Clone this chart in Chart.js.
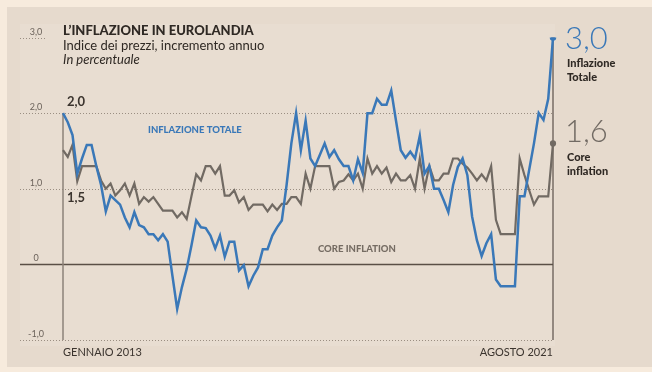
<!DOCTYPE html>
<html>
<head>
<meta charset="utf-8">
<script src="https://cdn.jsdelivr.net/npm/chart.js@4.4.0/dist/chart.umd.min.js"></script>
<style>
  html, body { margin: 0; padding: 0; background: #f7ebdd; }
  canvas { display: block; }
</style>
</head>
<body>
<canvas id="chart" width="652" height="372"></canvas>
<script>
// Data: euro area yearly change of prices, monthly, Jan 2013 - Aug 2021
const monthNames = ["gen", "feb", "mar", "apr", "mag", "giu", "lug", "ago", "set", "ott", "nov", "dic"];
const months = [];
for (let y = 2013; y <= 2021; y++) {
    for (let m = 0; m < 12; m++) {
        if (y === 2021 && m > 7) break;
        months.push(monthNames[m] + " " + y);
    }
}

const inflazioneTotale = [
    2.0, 1.88, 1.71, 1.2, 1.4, 1.58, 1.58, 1.3, 1.05, 0.7, 0.91, 0.85,
    0.79, 0.62, 0.49, 0.69, 0.52, 0.49, 0.4, 0.4, 0.32, 0.4, 0.3, -0.15,
    -0.59, -0.3, -0.06, 0.25, 0.58, 0.49, 0.48, 0.38, 0.21, 0.38, 0.1, 0.3,
    0.3, -0.08, -0.01, -0.29, -0.15, -0.04, 0.2, 0.2, 0.38, 0.49, 0.58, 1.05,
    1.6, 2.0, 1.51, 1.9, 1.4, 1.3, 1.45, 1.6, 1.42, 1.51, 1.39, 1.3,
    1.3, 1.11, 1.39, 1.21, 2.0, 2.0, 2.19, 2.11, 2.11, 2.3, 1.9, 1.51,
    1.41, 1.49, 1.4, 1.7, 1.2, 1.3, 1.0, 1.0, 0.85, 0.69, 1.05, 1.29,
    1.4, 1.18, 0.63, 0.32, 0.11, 0.28, 0.4, -0.2, -0.29, -0.29, -0.29, -0.29,
    0.9, 0.9, 1.25, 1.6, 2.0, 1.91, 2.19, 3.0
];

const coreInflation = [
    1.51, 1.42, 1.58, 1.1, 1.3, 1.3, 1.3, 1.3, 1.11, 1.0, 1.07, 0.91,
    0.98, 1.07, 0.91, 1.07, 0.8, 0.89, 0.83, 0.89, 0.8, 0.71, 0.71, 0.71,
    0.62, 0.69, 0.6, 0.9, 1.19, 1.11, 1.3, 1.3, 1.2, 1.3, 0.91, 0.91,
    0.98, 0.82, 0.89, 0.72, 0.79, 0.79, 0.79, 0.7, 0.79, 0.72, 0.8, 0.8,
    0.89, 0.89, 0.8, 1.2, 1.0, 1.3, 1.3, 1.3, 1.3, 1.0, 1.09, 1.11,
    1.19, 1.11, 1.2, 1.0, 1.4, 1.2, 1.3, 1.2, 1.28, 1.09, 1.2, 1.11,
    1.11, 1.18, 1.0, 1.4, 1.0, 1.3, 1.11, 1.11, 1.2, 1.2, 1.4, 1.4,
    1.33, 1.28, 1.2, 1.11, 1.19, 1.11, 1.3, 0.59, 0.4, 0.4, 0.4, 0.4,
    1.4, 1.18, 0.98, 0.79, 0.9, 0.9, 0.9, 1.6
];

const yTicks = [3, 2, 1, 0, -1];
const yTickLabels = ["3,0", "2,0", "1,0", "0", "-1,0"];

const BLUE = "#3a78b8";
const GREY = "#716a63";
const INK = "#2f2924";
const FONT = "Lato, 'Open Sans', sans-serif";

const decor = {
    id: "decor",
    beforeDraw(chart) {
        const ctx = chart.ctx;
        const y = chart.scales.y;
        const area = chart.chartArea;
        ctx.save();
        ctx.fillStyle = "#f7ebdd";
        ctx.fillRect(0, 0, chart.width, chart.height);
        ctx.fillStyle = "#e6dacd";
        ctx.fillRect(7, 7, chart.width - 7, 360);
        ctx.fillStyle = "#e8ddd1";
        ctx.fillRect(20, 24, area.right - 18, 322);

        // grid lines and tick labels
        ctx.font = "9px " + FONT;
        ctx.textAlign = "center";
        ctx.textBaseline = "middle";
        yTicks.forEach((t, i) => {
            const py = Math.round(y.getPixelForValue(t)) + 0.5;
            ctx.beginPath();
            if (t === 0) {
                ctx.setLineDash([]);
                ctx.strokeStyle = "#5a4f46";
                ctx.lineWidth = 1.5;
            } else {
                ctx.setLineDash([1, 2]);
                ctx.strokeStyle = "#9a8e82";
                ctx.lineWidth = 1;
            }
            ctx.moveTo(20, py);
            ctx.lineTo(t === 3 ? 46 : area.right, py);
            ctx.stroke();
            ctx.fillStyle = "#6b625a";
            ctx.fillText(yTickLabels[i], 36, py - 6);
        });
        ctx.setLineDash([]);

        // vertical start / end lines
        ctx.strokeStyle = "#8c8279";
        ctx.lineWidth = 1.5;
        ctx.beginPath();
        ctx.moveTo(area.left, y.getPixelForValue(2));
        ctx.lineTo(area.left, y.getPixelForValue(-1));
        ctx.stroke();
        ctx.strokeStyle = "#5a5048";
        ctx.lineWidth = 1.2;
        ctx.beginPath();
        ctx.moveTo(area.right, y.getPixelForValue(3));
        ctx.lineTo(area.right, y.getPixelForValue(-1));
        ctx.stroke();
        ctx.restore();
    },
    afterDatasetsDraw(chart) {
        const ctx = chart.ctx;
        const area = chart.chartArea;
        const blue = chart.getDatasetMeta(0).data;
        const grey = chart.getDatasetMeta(1).data;
        const lastB = blue[blue.length - 1];
        const lastG = grey[grey.length - 1];
        ctx.save();
        ctx.textBaseline = "middle";
        ctx.textAlign = "left";

        // title block
        ctx.fillStyle = INK;
        ctx.font = "900 13px " + FONT;
        ctx.fillText("L\u2019INFLAZIONE IN EUROLANDIA", 63, 31);
        ctx.font = "13px " + FONT;
        ctx.fillText("Indice dei prezzi, incremento annuo", 63, 46);
        ctx.font = "italic 13px " + FONT;
        ctx.fillText("In percentuale", 63, 60);

        // start values
        ctx.font = "bold 13px " + FONT;
        ctx.fillStyle = "#3b342e";
        ctx.fillText("2,0", 67, blue[0].y - 11);
        ctx.fillText("1,5", 67, grey[0].y + 48);

        // series names inside the plot
        ctx.font = "900 9.5px " + FONT;
        ctx.fillStyle = BLUE;
        ctx.fillText("INFLAZIONE TOTALE", 148, 130);
        ctx.fillStyle = "#756c63";
        ctx.fillText("CORE INFLATION", 318, 249);

        // end values
        ctx.font = "300 31px " + FONT;
        ctx.fillStyle = BLUE;
        ctx.fillText("3,0", 565, lastB.y + 1);
        ctx.fillStyle = GREY;
        ctx.fillText("1,6", 565, lastG.y - 11);
        ctx.font = "900 11px " + FONT;
        ctx.fillStyle = INK;
        ctx.fillText("Inflazione", 567, lastB.y + 26);
        ctx.fillText("Totale", 567, lastB.y + 40);
        ctx.fillText("Core", 567, lastG.y + 14);
        ctx.fillText("inflation", 567, lastG.y + 28);

        // period labels
        ctx.font = "11px " + FONT;
        ctx.fillStyle = "#3b342e";
        ctx.fillText("GENNAIO 2013", area.left, 352);
        ctx.textAlign = "right";
        ctx.fillText("AGOSTO 2021", area.right, 352);
        ctx.restore();
    }
};

const lastIdx = months.length - 1;
new Chart(document.getElementById("chart"), {
    type: "line",
    data: {
        labels: months,
        datasets: [{
            label: "Inflazione totale",
            data: inflazioneTotale,
            borderColor: BLUE,
            backgroundColor: BLUE,
            borderWidth: 2.5,
            pointRadius: c => (c.dataIndex === lastIdx ? 2 : 0),
            tension: 0
        }, {
            label: "Core inflation",
            data: coreInflation,
            borderColor: GREY,
            backgroundColor: GREY,
            borderWidth: 2.2,
            pointRadius: c => (c.dataIndex === lastIdx ? 2 : 0),
            tension: 0
        }]
    },
    options: {
        responsive: false,
        animation: false,
        layout: { padding: { left: 63, right: 99, top: 37.5, bottom: 32 } },
        plugins: { legend: { display: false }, tooltip: { enabled: false } },
        scales: {
            x: { display: false, offset: false },
            y: { display: false, min: -1, max: 3 }
        }
    },
    plugins: [decor]
});
</script>
</body>
</html>
